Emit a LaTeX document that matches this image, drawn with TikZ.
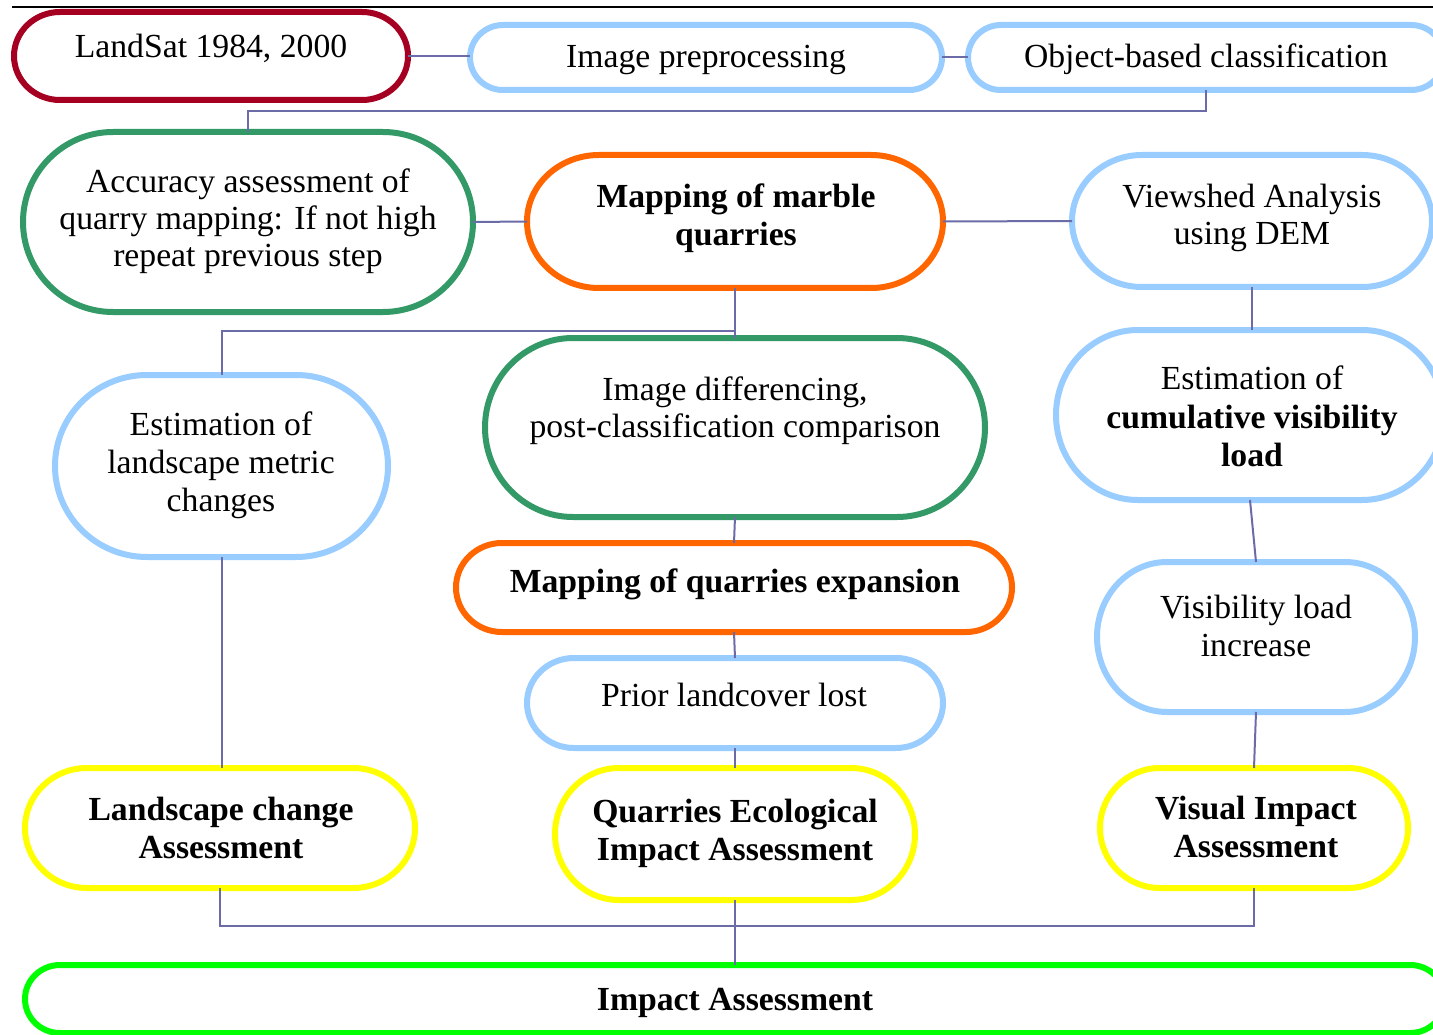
\documentclass[tikz,border=0pt]{standalone}
\usepackage{fontspec}
\setmainfont{Liberation Serif}
\usetikzlibrary{calc}
\definecolor{cRed}{HTML}{A50021}
\definecolor{cBlue}{HTML}{99CCFF}
\definecolor{cGreen}{HTML}{339966}
\definecolor{cOrange}{HTML}{FF6600}
\definecolor{cYellow}{HTML}{FFFF00}
\definecolor{cLime}{HTML}{00FF00}
\definecolor{cLink}{HTML}{6B6BA8}
\tikzset{
  box/.style={inner sep=0pt, outer sep=0pt, rectangle},
  lbl/.style={anchor=base, inner sep=0pt, font=\fontsize{33.7}{37.5}\selectfont},
  blbl/.style={lbl, font=\fontsize{33.7}{37.5}\selectfont\bfseries},
  link/.style={draw=cLink, line width=2pt},
  outline/.style={line width=6pt, fill=white},
}
% outline with elliptical corners: #1 node, #2 colour, #3 x radius, #4 y radius
\newcommand\drawebox[4]{%
  \draw[outline, draw=#2] let \p1=(#1.north west), \p2=(#1.south east) in
   (\x1+#3pt,\y1) -- (\x2-#3pt,\y1) arc[start angle=90,end angle=0,x radius=#3pt,y radius=#4pt]
   -- (\x2,\y2+#4pt) arc[start angle=0,end angle=-90,x radius=#3pt,y radius=#4pt]
   -- (\x1+#3pt,\y2) arc[start angle=270,end angle=180,x radius=#3pt,y radius=#4pt]
   -- (\x1,\y1-#4pt) arc[start angle=180,end angle=90,x radius=#3pt,y radius=#4pt] -- cycle;}
\begin{document}
\begin{tikzpicture}[x=1pt,y=-1pt]
\useasboundingbox (0,0) rectangle (1433,1035);
\clip (0,0) rectangle (1433,1035);
\fill[white] (0,0) rectangle (1433,1035);
\draw[black, line width=2pt] (12,7) -- (1433,7);

% boxes (named nodes) and their outlines
\node[box, minimum width=394pt, minimum height=88pt] (land) at (211,56) {};
\node[box, minimum width=472pt, minimum height=65pt] (pre) at (706,57.5) {};
\node[box, minimum width=476pt, minimum height=65pt] (obj) at (1206,57.5) {};
\node[box, minimum width=450pt, minimum height=180pt] (acc) at (248,222) {};
\node[box, minimum width=416pt, minimum height=133pt] (mar) at (735,221.5) {};
\node[box, minimum width=360pt, minimum height=132pt] (view) at (1252,221) {};
\node[box, minimum width=500pt, minimum height=179pt] (diff) at (735,427.5) {};
\node[box, minimum width=333pt, minimum height=182pt] (lm) at (221.5,466) {};
\node[box, minimum width=388pt, minimum height=170pt] (cum) at (1250,415) {};
\node[box, minimum width=318pt, minimum height=150pt] (vis) at (1256,637) {};
\node[box, minimum width=556pt, minimum height=89pt] (exp) at (734,587.5) {};
\node[box, minimum width=416pt, minimum height=90pt] (prior) at (735,703) {};
\node[box, minimum width=390pt, minimum height=120pt] (lca) at (220,828) {};
\node[box, minimum width=360pt, minimum height=132pt] (qeia) at (735,834) {};
\node[box, minimum width=308pt, minimum height=120pt] (via) at (1254,828) {};
\node[box, minimum width=1420pt, minimum height=68pt] (ia) at (735,999) {};

\drawebox{land}{cRed}{46}{44}
\drawebox{pre}{cBlue}{33}{32.5}
\drawebox{obj}{cBlue}{33}{32.5}
\drawebox{acc}{cGreen}{90}{90}
\drawebox{mar}{cOrange}{72}{66.5}
\drawebox{view}{cBlue}{70}{66}
\drawebox{diff}{cGreen}{88}{89.5}
\drawebox{lm}{cBlue}{92}{91}
\drawebox{cum}{cBlue}{82}{85}
\drawebox{vis}{cBlue}{70}{75}
\drawebox{exp}{cOrange}{46}{44.5}
\drawebox{prior}{cBlue}{47}{45}
\drawebox{lca}{cYellow}{62}{60}
\drawebox{qeia}{cYellow}{64}{66}
\drawebox{via}{cYellow}{60}{60}
\drawebox{ia}{cLime}{35}{34}

% connectors
\coordinate (br) at (735,331);
\path[link] (land.east) -- (land.east -| pre.west);
\path[link] (pre.east) -- (obj.west);
\path[link] (obj.south) -- ++(0,21) -| (acc.north);
\path[link] (acc.east) -- (mar.west);
\path[link] (mar.east) -- (view.west);
\path[link] (mar.south) -- (diff.north);
\path[link] (br) -| (lm.north);
\path[link] (view.south) -- (view.south |- cum.north);
\path[link] (cum.south) -- (vis.north);
\path[link] (vis.south) -- (via.north);
\path[link] (diff.south) -- (exp.north);
\path[link] (exp.south) -- (prior.north);
\path[link] (prior.south) -- (qeia.north);
\path[link] (lm.south) -- (lm.south |- lca.north);
\path[link] (lca.south) -- ++(0,38) -| (via.south);
\path[link] (qeia.south) -- (ia.north);

% texts
\node[lbl] (t1) at (211,58) {LandSat 1984, 2000};
\node[lbl] (t2) at (706,68) {Image preprocessing};
\node[lbl] (t3) at (1206,68) {Object-based classification};
\node[lbl] (t4a) at (248,193) {Accuracy assessment of};
\node[lbl] (t4b) at (248,230) {quarry mapping: If not high};
\node[lbl] (t4c) at (248,267) {repeat previous step};
\node[blbl] (t5a) at (736,208) {Mapping of marble};
\node[blbl] (t5b) at (736,246) {quarries};
\node[lbl] (t6a) at (1252,208) {Viewshed Analysis};
\node[lbl] (t6b) at (1252,245) {using DEM};
\node[lbl] (t7a) at (735,400) {Image differencing,};
\node[lbl] (t7b) at (735,437) {post-classification comparison};
\node[lbl] (t8a) at (221,435) {Estimation of};
\node[lbl] (t8b) at (221,473) {landscape metric};
\node[lbl] (t8c) at (221,511) {changes};
\node[lbl] (t9a) at (1252,389) {Estimation of};
\node[blbl] (t9b) at (1252,428) {cumulative visibility};
\node[blbl] (t9c) at (1252,466) {load};
\node[lbl] (t10a) at (1256,618) {Visibility load};
\node[lbl] (t10b) at (1256,656) {increase};
\node[blbl] (t11) at (735,592) {Mapping of quarries expansion};
\node[lbl] (t12) at (734,706) {Prior landcover lost};
\node[blbl] (t13a) at (221,820) {Landscape change};
\node[blbl] (t13b) at (221,858) {Assessment};
\node[blbl] (t14a) at (735,822) {Quarries Ecological};
\node[blbl] (t14b) at (735,860) {Impact Assessment};
\node[blbl] (t15a) at (1256,819) {Visual Impact};
\node[blbl] (t15b) at (1256,857) {Assessment};
\node[blbl] (t16) at (735,1010) {Impact Assessment};
\end{tikzpicture}
\end{document}
